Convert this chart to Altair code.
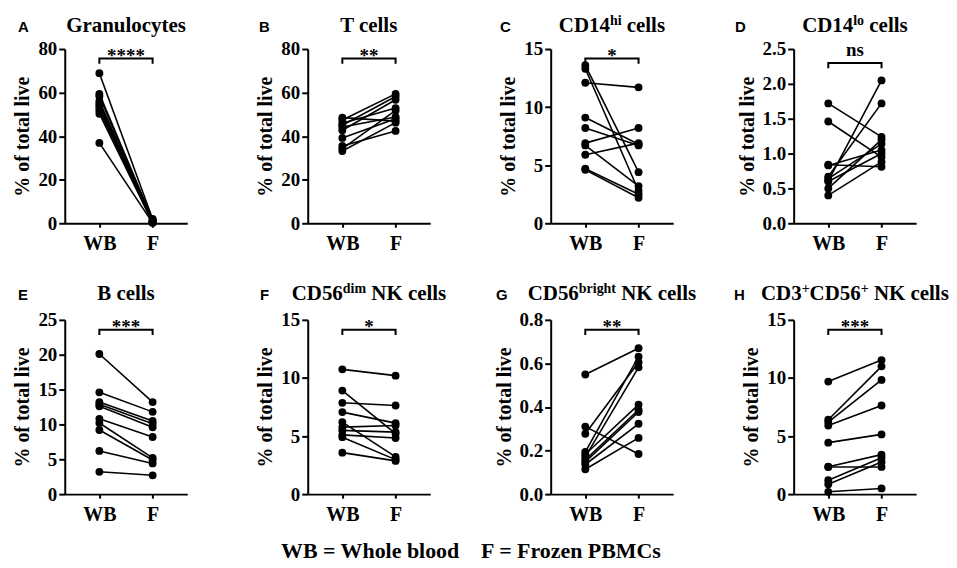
import altair as alt
import pandas as pd

groups = ["WB", "F"]

# values (10 donors, WB -> F)
gran_wb = [68.9, 59.4, 58.3, 56.1, 55.0, 54.0, 53.0, 51.8, 50.3, 36.9]
gran_f = [2.0, 1.5, 1.2, 1.0, 0.8, 0.6, 0.5, 0.4, 0.3, 0.2]
tcell_wb = [48.5, 47.4, 45.9, 45.0, 44.2, 42.7, 39.2, 35.5, 34.3, 33.2]
tcell_f = [46.9, 59.4, 52.9, 58.2, 48.8, 56.7, 48.0, 42.4, 51.8, 46.2]
cd14hi_wb = [13.6, 13.3, 12.1, 9.1, 8.2, 6.9, 6.7, 5.9, 4.7, 4.6]
cd14hi_f = [4.4, 2.8, 11.7, 6.8, 6.7, 8.2, 3.2, 6.9, 2.5, 2.2]
cd14lo_wb = [1.72, 1.46, 0.84, 0.83, 0.67, 0.64, 0.61, 0.60, 0.50, 0.40]
cd14lo_f = [1.24, 0.95, 0.81, 1.05, 1.72, 1.14, 2.05, 1.00, 1.20, 0.88]
bcell_wb = [20.1, 14.6, 13.2, 12.9, 12.6, 10.8, 10.2, 9.2, 6.2, 3.2]
bcell_f = [13.2, 11.8, 10.5, 10.1, 9.6, 8.2, 5.2, 4.9, 4.4, 2.7]
nkdim_wb = [10.74, 8.91, 7.86, 7.06, 6.2, 5.77, 5.49, 5.1, 4.9, 3.57]
nkdim_f = [10.2, 5.2, 7.63, 6.11, 3.2, 5.91, 5.34, 4.83, 2.97, 2.86]
nkbright_wb = [0.549, 0.31, 0.277, 0.194, 0.183, 0.171, 0.158, 0.148, 0.136, 0.114]
nkbright_f = [0.67, 0.184, 0.605, 0.631, 0.411, 0.582, 0.387, 0.377, 0.323, 0.258]
nkt_wb = [9.69, 6.4, 6.2, 5.91, 4.43, 2.36, 2.34, 1.2, 0.85, 0.2]
nkt_f = [11.54, 11.0, 9.83, 7.63, 5.14, 3.4, 2.34, 3.14, 2.77, 0.49]

letters = ["A", "B", "C", "D", "E", "F", "G", "H"]
titles = [
    [("Granulocytes", False)],
    [("T cells", False)],
    [("CD14", False), ("hi", True), (" cells", False)],
    [("CD14", False), ("lo", True), (" cells", False)],
    [("B cells", False)],
    [("CD56", False), ("dim", True), (" NK cells", False)],
    [("CD56", False), ("bright", True), (" NK cells", False)],
    [("CD3", False), ("+", True), ("CD56", False), ("+", True), (" NK cells", False)],
]
wb_vals = [gran_wb, tcell_wb, cd14hi_wb, cd14lo_wb, bcell_wb, nkdim_wb, nkbright_wb, nkt_wb]
f_vals = [gran_f, tcell_f, cd14hi_f, cd14lo_f, bcell_f, nkdim_f, nkbright_f, nkt_f]
y_max = [80, 80, 15, 2.5, 25, 15, 0.8, 15]
y_ticks = [
    [0, 20, 40, 60, 80], [0, 20, 40, 60, 80], [0, 5, 10, 15], [0, 0.5, 1.0, 1.5, 2.0, 2.5],
    [0, 5, 10, 15, 20, 25], [0, 5, 10, 15], [0, 0.2, 0.4, 0.6, 0.8], [0, 5, 10, 15],
]
y_fmt = ["d", "d", "d", ".1f", "d", "d", ".1f", "d"]
stars = ["****", "**", "*", "ns", "***", "*", "**", "***"]
caption = "WB = Whole blood\u00a0\u00a0\u00a0\u00a0F = Frozen PBMCs"

# layout / style settings
W, H = 123, 175
SERIF = "Liberation Serif"
SANS = "Liberation Sans"
TITLE_SIZE = 21
SUP_SIZE = 14
bracket_frac = [0.945, 0.945, 0.945, 0.92, 0.943, 0.943, 0.943, 0.943]
star_dy = [3, 3, 3, -7, 3, 3, 3, 3]
letter_dx = [-47, -49, -51, -59, -47, -48, -55, -60]
title_y = [-17, -17, -17, -17, -20, -20, -20, -20]

# Times-Bold advance widths (1/1000 em)
TB = {" ": 250, "C": 722, "D": 722, "N": 722, "K": 778, "B": 667, "T": 667, "G": 778,
      "+": 570, "a": 500, "b": 556, "c": 444, "d": 556, "e": 444, "g": 500, "h": 556,
      "i": 278, "l": 278, "m": 833, "n": 556, "o": 500, "r": 444, "s": 389, "t": 333,
      "u": 556, "y": 500}


def text_width(s, size):
    return sum(TB.get(ch, 500) for ch in s) * size / 1000.0


def title_layers(segs, ty):
    total = sum(text_width(s, SUP_SIZE if sup else TITLE_SIZE) for s, sup in segs)
    x = W / 2 - total / 2
    layers = []
    one = pd.DataFrame({"k": [0]})
    for s, sup in segs:
        size = SUP_SIZE if sup else TITLE_SIZE
        stripped = s.lstrip(" ")
        lead = text_width(s[: len(s) - len(stripped)], size)
        layers.append(
            alt.Chart(one).mark_text(
                text=stripped, align="left", baseline="alphabetic", font=SERIF,
                fontSize=size, fontWeight="bold", color="black",
            ).encode(x=alt.value(x + lead), y=alt.value(ty - (7 if sup else 0)))
        )
        x += text_width(s, size)
    return layers


def panel(i):
    wb, fz = wb_vals[i], f_vals[i]
    n = len(wb)
    df = pd.DataFrame({
        "donor": list(range(n)) * 2,
        "group": ["WB"] * n + ["F"] * n,
        "value": wb + fz,
    })
    xenc = alt.X(
        "group:N",
        scale=alt.Scale(type="point", domain=groups, padding=0.65),
        axis=alt.Axis(labelAngle=0, tickSize=4, labelPadding=6, labelFontSize=20,
                      labelFont=SERIF, labelFontWeight="bold", labelColor="black",
                      domainColor="black", domainWidth=2, tickColor="black", tickWidth=2),
        title=None,
    )
    yenc = alt.Y(
        "value:Q",
        scale=alt.Scale(domain=[0, y_max[i]], nice=False, zero=True),
        axis=alt.Axis(values=y_ticks[i], format=y_fmt[i], title="% of total live",
                      tickSize=6, labelPadding=2, titlePadding=5,
                      labelOverlap=False, labelBound=False,
                      labelFont=SERIF, labelFontWeight="bold", labelFontSize=19,
                      labelColor="black", titleFont=SERIF, titleFontWeight="bold",
                      titleFontSize=20, titleColor="black",
                      domainColor="black", domainWidth=2, tickColor="black", tickWidth=2),
    )
    base = alt.Chart(df).encode(x=xenc, y=yenc)
    lines = base.mark_line(color="black", strokeWidth=1.6).encode(detail="donor:N")
    pts = base.mark_circle(color="black", opacity=1, size=62)

    lvl = bracket_frac[i] * y_max[i]
    tk = 0.03 * y_max[i]
    bdf = pd.DataFrame({
        "group": ["WB", "WB", "F", "F"],
        "value": [lvl - tk, lvl, lvl, lvl - tk],
        "o": [0, 1, 2, 3],
    })
    bracket = alt.Chart(bdf).mark_line(color="black", strokeWidth=2).encode(
        x=xenc, y=yenc, order="o:Q"
    )
    sdf = pd.DataFrame({"value": [lvl]})
    star = alt.Chart(sdf).mark_text(
        text=stars[i], font=SERIF, fontSize=19, fontWeight="bold", color="black",
        baseline="alphabetic", align="center", dy=star_dy[i],
    ).encode(x=alt.value(W / 2), y=yenc)

    one = pd.DataFrame({"k": [0]})
    letter = alt.Chart(one).mark_text(
        text=letters[i], font=SANS, fontSize=15, fontWeight="bold", color="black",
        align="left", baseline="alphabetic",
    ).encode(x=alt.value(letter_dx[i]), y=alt.value(title_y[i]))

    layers = [lines, pts, bracket, star, letter] + title_layers(titles[i], title_y[i])
    return alt.layer(*layers).properties(width=W, height=H)


panels = [panel(i) for i in range(8)]

chart = alt.concat(
    *panels, columns=4, spacing={"row": 97, "column": 121}, bounds="flush",
).properties(
    title=alt.TitleParams(
        text=caption, orient="bottom", anchor="middle", font=SERIF, fontSize=22,
        fontWeight="bold", color="black", offset=17, dx=-10,
    ),
    padding={"left": 5, "top": 5, "right": 0, "bottom": 5},
).configure_view(strokeWidth=0).configure_axis(grid=False)

chart.save("out.html", embed_options={"renderer": "svg", "actions": False})
